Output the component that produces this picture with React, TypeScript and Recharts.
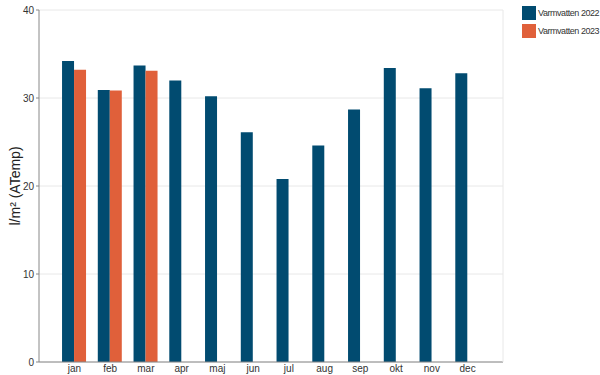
import { Bar, BarChart, CartesianGrid, XAxis, YAxis } from "recharts";

const MONTHS = ["jan", "feb", "mar", "apr", "maj", "jun", "jul", "aug", "sep", "okt", "nov", "dec"];
const VALUES_2022 = [34.2, 30.9, 33.7, 32.0, 30.2, 26.1, 20.8, 24.6, 28.7, 33.4, 31.1, 32.8];
const VALUES_2023: (number | null)[] = [33.2, 30.85, 33.1, null, null, null, null, null, null, null, null, null];
const Y_TICKS = [0, 10, 20, 30, 40];

const SERIES = [
  { key: "v2022", name: "Varmvatten 2022", color: "#014b70" },
  { key: "v2023", name: "Varmvatten 2023", color: "#e0603a" },
];

const data = MONTHS.map((month, i) => ({
  month,
  v2022: VALUES_2022[i],
  v2023: VALUES_2023[i],
}));

const FONT = "'Liberation Sans', Arial, sans-serif";

function LegendBox() {
  return (
    <div
      style={{
        position: "absolute",
        left: 522,
        top: 4,
        fontFamily: FONT,
        fontSize: 9,
        letterSpacing: -0.45,
        color: "#333",
        whiteSpace: "nowrap",
      }}
    >
      {SERIES.map((s) => (
        <div key={s.key} style={{ display: "flex", alignItems: "center", height: 18 }}>
          <span style={{ width: 14, height: 14, backgroundColor: s.color, marginRight: 2 }} />
          <span>{s.name}</span>
        </div>
      ))}
    </div>
  );
}

export default function App() {
  return (
    <div style={{ position: "absolute", left: 0, top: 0, width: 600, height: 375, background: "#fff" }}>
      <BarChart
        width={600}
        height={375}
        data={data}
        margin={{ top: 10, right: 96, bottom: 0, left: 0 }}
        barGap={0}
        barCategoryGap="15.5%"
      >
        <CartesianGrid vertical={false} stroke="#e8e8e8" />
        <XAxis
          dataKey="month"
          height={13}
          padding={{ left: 17.5, right: 17.5 }}
          tickLine={false}
          tickSize={0}
          tickMargin={3}
          axisLine={{ stroke: "#888" }}
          tick={{ fontSize: 10, fill: "#333", fontFamily: FONT }}
          interval={0}
        />
        <YAxis
          width={39}
          domain={[0, 40]}
          ticks={Y_TICKS}
          tickSize={3}
          tickLine={{ stroke: "#888" }}
          axisLine={{ stroke: "#888" }}
          tick={{ fontSize: 10, fill: "#333", fontFamily: FONT }}
          label={{
            value: "l/m² (ATemp)",
            angle: -90,
            position: "center",
            dx: -4,
            style: { fontSize: 14, fill: "#222", fontFamily: FONT },
          }}
        />
        <YAxis
          yAxisId="right"
          orientation="right"
          width={1}
          domain={[0, 40]}
          tick={false}
          tickLine={false}
          axisLine={{ stroke: "#e8e8e8" }}
        />
        {SERIES.map((s) => (
          <Bar key={s.key} dataKey={s.key} name={s.name} fill={s.color} isAnimationActive={false} />
        ))}
      </BarChart>
      <LegendBox />
    </div>
  );
}
